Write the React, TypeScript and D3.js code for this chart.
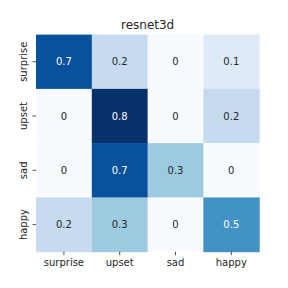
import { useEffect } from "react";
import * as d3 from "d3";

const labels = ["surprise", "upset", "sad", "happy"];
const matrix = [
  [0.7, 0.2, 0, 0.1],
  [0, 0.8, 0, 0.2],
  [0, 0.7, 0.3, 0],
  [0.2, 0.3, 0, 0.5],
];
const title = "resnet3d";

// matplotlib "Blues" stops
const bluesStops = [
  "#f7fbff",
  "#deebf7",
  "#c6dbef",
  "#9ecae1",
  "#6baed6",
  "#4292c6",
  "#2171b5",
  "#08519c",
  "#08306b",
];

export default function App() {
  useEffect(() => {
    document.body.style.margin = "0";
  }, []);

  const width = 288;
  const height = 288;
  const margin = { top: 34.6, right: 28.8, bottom: 36.3, left: 36 };

  const x = d3
    .scaleBand()
    .domain(labels)
    .range([margin.left, width - margin.right]);
  const y = d3
    .scaleBand()
    .domain(labels)
    .range([margin.top, height - margin.bottom]);

  const vmax = d3.max(matrix.flat()) ?? 1;
  const color = d3
    .scaleLinear<string>()
    .domain(bluesStops.map((_, i) => (vmax * i) / (bluesStops.length - 1)))
    .range(bluesStops)
    .interpolate(d3.interpolateRgb);

  // relative luminance like seaborn's annotation colour choice
  const textColor = (v: number) => {
    const c = d3.rgb(color(v));
    const lin = (u: number) => {
      const s = u / 255;
      return s <= 0.03928 ? s / 12.92 : Math.pow((s + 0.055) / 1.055, 2.4);
    };
    const lum = 0.2126 * lin(c.r) + 0.7152 * lin(c.g) + 0.0722 * lin(c.b);
    return lum > 0.408 ? "#262626" : "#ffffff";
  };

  const font = "DejaVu Sans, sans-serif";

  return (
    <svg
      width={width}
      height={height}
      style={{ position: "absolute", left: 0, top: 0, background: "#fff" }}
      fontFamily={font}
    >
      <text
        x={(margin.left + width - margin.right) / 2}
        y={28.5}
        textAnchor="middle"
        fontSize={12}
        fill="#262626"
      >
        {title}
      </text>

      {matrix.map((row, i) =>
        row.map((v, j) => (
          <g key={`${i}-${j}`}>
            <rect
              x={x(labels[j])}
              y={y(labels[i])}
              width={x.bandwidth() + 0.5}
              height={y.bandwidth() + 0.5}
              fill={color(v)}
            />
            <text
              x={(x(labels[j]) ?? 0) + x.bandwidth() / 2}
              y={(y(labels[i]) ?? 0) + y.bandwidth() / 2}
              dy="0.35em"
              textAnchor="middle"
              fontSize={10}
              fill={textColor(v)}
            >
              {v}
            </text>
          </g>
        ))
      )}

      {labels.map((l) => {
        const cx = (x(l) ?? 0) + x.bandwidth() / 2;
        const by = height - margin.bottom;
        return (
          <g key={`x-${l}`}>
            <line x1={cx} x2={cx} y1={by} y2={by + 3.5} stroke="#262626" strokeWidth={0.8} />
            <text x={cx} y={by + 14.5} textAnchor="middle" fontSize={10} fill="#262626">
              {l}
            </text>
          </g>
        );
      })}

      {labels.map((l) => {
        const cy = (y(l) ?? 0) + y.bandwidth() / 2;
        const lx = margin.left;
        return (
          <g key={`y-${l}`}>
            <line x1={lx - 3.5} x2={lx} y1={cy} y2={cy} stroke="#262626" strokeWidth={0.8} />
            <text
              transform={`translate(${lx - 9.5},${cy}) rotate(-90)`}
              textAnchor="middle"
              fontSize={10}
              fill="#262626"
            >
              {l}
            </text>
          </g>
        );
      })}
    </svg>
  );
}
